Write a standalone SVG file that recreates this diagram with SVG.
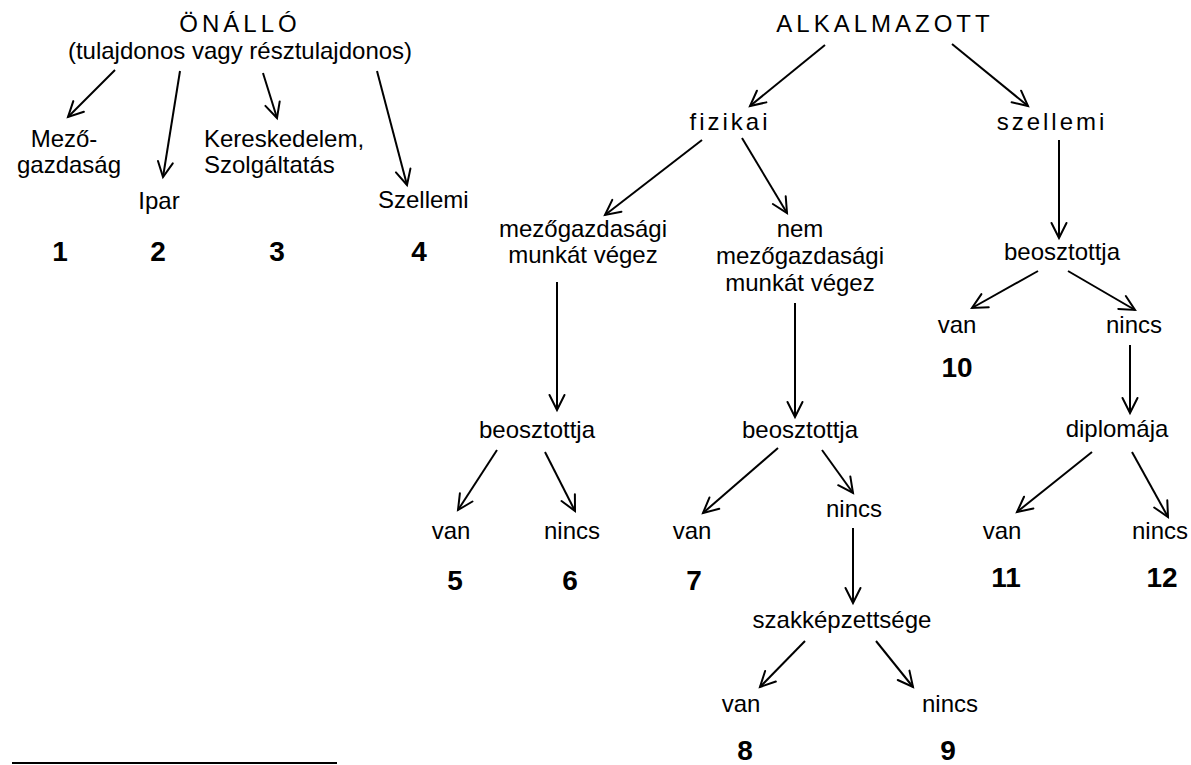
<svg xmlns="http://www.w3.org/2000/svg" width="1191" height="765" viewBox="0 0 1191 765">
<style>
text{font-family:"Liberation Sans",Arial,sans-serif;font-size:24px;fill:#000;text-anchor:middle}
.sp4{letter-spacing:4px}
.sp3{letter-spacing:3px}
.num{font-weight:bold;font-size:28px}
.st{text-anchor:start}
.c{fill:none;stroke:#000;stroke-width:2;marker-end:url(#ah)}
</style>
<defs>
<marker id="ah" markerUnits="userSpaceOnUse" markerWidth="20" markerHeight="20" refX="0" refY="0" orient="auto" overflow="visible">
<path d="M-15,-7.5 L0,0 L-15,7.5" fill="none" stroke="#000" stroke-width="2" stroke-linecap="round" stroke-linejoin="miter"/>
</marker>
</defs>
<rect width="1191" height="765" fill="#fff"/>
<g id="connectors">
<line class="c" x1="115" y1="70" x2="68" y2="117"/>
<line class="c" x1="180" y1="71" x2="163" y2="177"/>
<line class="c" x1="263" y1="73" x2="277" y2="118"/>
<line class="c" x1="377" y1="71" x2="407" y2="185"/>
<line class="c" x1="825" y1="45" x2="750" y2="106"/>
<line class="c" x1="952" y1="44" x2="1028" y2="106"/>
<line class="c" x1="702" y1="140" x2="605" y2="215"/>
<line class="c" x1="742" y1="138" x2="787" y2="213"/>
<line class="c" x1="557" y1="282" x2="557" y2="410"/>
<line class="c" x1="795" y1="303" x2="795" y2="417"/>
<line class="c" x1="497" y1="450" x2="458" y2="510"/>
<line class="c" x1="545" y1="452" x2="575" y2="511"/>
<line class="c" x1="778" y1="448" x2="703" y2="513"/>
<line class="c" x1="822" y1="450" x2="853" y2="493"/>
<line class="c" x1="853" y1="528" x2="853" y2="603"/>
<line class="c" x1="805" y1="641" x2="760" y2="687"/>
<line class="c" x1="876" y1="641" x2="913" y2="687"/>
<line class="c" x1="1059" y1="140" x2="1059" y2="238"/>
<line class="c" x1="1038" y1="271" x2="972" y2="308"/>
<line class="c" x1="1068" y1="271" x2="1135" y2="310"/>
<line class="c" x1="1130" y1="345" x2="1130" y2="413"/>
<line class="c" x1="1092" y1="452" x2="1017" y2="512"/>
<line class="c" x1="1132" y1="452" x2="1168" y2="517"/>
</g>
<g id="onallo"><text class="sp4" x="240" y="32">ÖNÁLLÓ</text><text x="240" y="59">(tulajdonos vagy résztulajdonos)</text></g>
<g id="mezogazdasag"><text x="64" y="147">Mező-</text><text x="69" y="173">gazdaság</text></g>
<g id="ipar"><text x="159" y="209">Ipar</text></g>
<g id="kereskedelem"><text class="st" x="204" y="147">Kereskedelem,</text><text class="st" x="204" y="173">Szolgáltatás</text></g>
<g id="szellemi-onallo"><text class="st" x="378" y="208">Szellemi</text></g>
<g id="n1"><text class="num" x="60" y="261">1</text></g>
<g id="n2"><text class="num" x="158" y="261">2</text></g>
<g id="n3"><text class="num" x="277" y="261">3</text></g>
<g id="n4"><text class="num" x="419" y="261">4</text></g>
<g id="alkalmazott"><text class="sp4" x="885" y="32">ALKALMAZOTT</text></g>
<g id="fizikai"><text class="sp3" x="730" y="130">fizikai</text></g>
<g id="szellemi"><text class="sp3" x="1052" y="130">szellemi</text></g>
<g id="mezogazd-munka"><text x="583" y="237">mezőgazdasági</text><text x="583" y="263">munkát végez</text></g>
<g id="nem-mezogazd"><text x="800" y="237">nem</text><text x="800" y="264">mezőgazdasági</text><text x="800" y="291">munkát végez</text></g>
<g id="beoszt1"><text x="537" y="438">beosztottja</text></g>
<g id="beoszt2"><text x="800" y="438">beosztottja</text></g>
<g id="beoszt3"><text x="1062" y="260">beosztottja</text></g>
<g id="van5"><text x="451" y="539">van</text></g>
<g id="nincs6"><text x="572" y="539">nincs</text></g>
<g id="van7"><text x="692" y="539">van</text></g>
<g id="nincs-b2"><text x="854" y="517">nincs</text></g>
<g id="szakkepzettsege"><text x="842" y="628">szakképzettsége</text></g>
<g id="van8"><text x="741" y="712">van</text></g>
<g id="nincs9"><text x="950" y="712">nincs</text></g>
<g id="van10"><text x="957" y="333">van</text></g>
<g id="nincs-b3"><text x="1134" y="333">nincs</text></g>
<g id="diplomaja"><text x="1117" y="437">diplomája</text></g>
<g id="van11"><text x="1002" y="539">van</text></g>
<g id="nincs12"><text x="1160" y="539">nincs</text></g>
<g id="n5"><text class="num" x="455" y="590">5</text></g>
<g id="n6"><text class="num" x="570" y="590">6</text></g>
<g id="n7"><text class="num" x="694" y="590">7</text></g>
<g id="n8"><text class="num" x="745" y="760">8</text></g>
<g id="n9"><text class="num" x="948" y="760">9</text></g>
<g id="n10"><text class="num" x="957" y="377">10</text></g>
<g id="n11"><text class="num" x="1006" y="587">11</text></g>
<g id="n12"><text class="num" x="1162" y="587">12</text></g>
<line x1="12" y1="763" x2="337" y2="763" stroke="#000" stroke-width="2"/>
</svg>
